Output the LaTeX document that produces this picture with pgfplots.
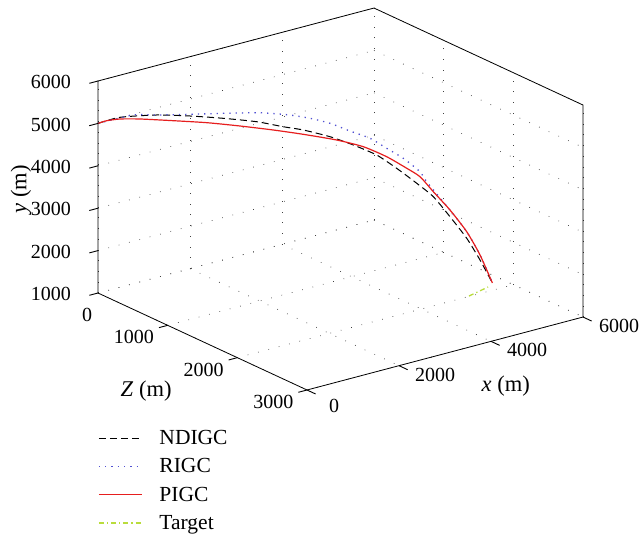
\documentclass[border=0pt]{standalone}
\usepackage{fontspec}
\setmainfont{Liberation Serif}
\usepackage{pgfplots}
\pgfplotsset{compat=1.18}
\usetikzlibrary{calc}
\definecolor{rigc}{RGB}{80,80,210}
\definecolor{pigc}{RGB}{230,30,30}
\definecolor{tgt}{RGB}{185,220,60}
\begin{document}
\begin{tikzpicture}
\begin{axis}[
  x={(0.0696667pt,-0.0323333pt)},
  y={(0.046pt,0.0121667pt)},
  z={(0pt,0.0424pt)},
  xmin=0,xmax=3000, ymin=0,ymax=6000, zmin=1000,zmax=6000,
  xtick={1000,2000,3000}, ytick={2000,4000,6000}, ztick={1000,2000,...,6000},
  extra x ticks={0}, extra y ticks={0},
  extra x tick style={xticklabel style={xshift=19pt, yshift=-15pt}},
  extra y tick style={yticklabel style={xshift=-7pt, yshift=-10pt}},
  clip=false,
  grid=major,
  major grid style={black!75, line width=0.7pt, dash pattern=on 0.7pt off 10pt},
  axis line style={draw=none},
  tick pos=left,
  tick align=outside,
  major tick length=9pt,
  tick style={draw=none},
  /pgf/number format/assume math mode=true,
  /pgf/number format/1000 sep={},
  ticklabel style={font=\fontsize{20}{22}\selectfont},
  xticklabel style={xshift=-13pt, yshift=6pt},
  yticklabel style={xshift=19pt, yshift=9pt},
  zticklabel style={xshift=-15pt, yshift=-1pt},
  label style={font=\fontsize{22.5}{25}\selectfont},
  xlabel={\textit{Z} (m)}, ylabel={\textit{x} (m)}, zlabel={\textit{y} (m)},
  xlabel style={xshift=3pt, yshift=28pt},
  ylabel style={xshift=13pt, yshift=42pt},
  zlabel style={yshift=-8pt, xshift=-10pt},
  legend style={at={(axis description cs:0,-0.1)}, anchor=north west, draw=none, fill=none,
    font=\fontsize{21.5}{24}\selectfont, row sep=8.5pt, column sep=15pt, inner sep=0pt},
  legend cell align=left,
  legend image code/.code={\draw[#1] (0pt,0pt) -- (43pt,0pt);},
]
\addplot3[black, line width=1pt, dash pattern=on 7pt off 4pt, smooth, tension=0.4] coordinates {
(0,0,5000) (104,321,5131) (276,857,5163) (434,1344,5120) (590,1830,5045)
(748,2318,4945) (873,2706,4811) (967,2998,4722) (1093,3388,4548) (1203,3729,4338)
(1313,4070,4088) (1407,4362,3762) (1502,4655,3397) (1580,4897,3071) (1658,5141,2589)
(1737,5385,2070) (1800,5579,1550) (1858,5760,1000)};
\addlegendentry{NDIGC}
\addplot3[rigc, line width=1.3pt, dash pattern=on 1.3pt off 5pt, smooth, tension=0.4] coordinates {
(0,0,5000) (166,516,5177) (276,857,5163) (434,1344,5160) (590,1830,5163)
(748,2318,5158) (810,2512,5135) (905,2804,5083) (999,3096,4994) (1093,3388,4864)
(1187,3680,4670) (1282,3973,4486) (1360,4216,4240) (1438,4459,3994) (1517,4703,3668)
(1548,4800,3429) (1658,5141,2747) (1737,5385,2225) (1800,5579,1668) (1858,5760,1000)};
\addlegendentry{RIGC}
\addplot3[pigc, line width=1.2pt, smooth, tension=0.4] coordinates {
(0,0,5000) (41,127,5058) (104,321,5091) (198,613,5079) (355,1100,5019)
(512,1588,4952) (669,2074,4854) (826,2560,4740) (967,2998,4620) (1125,3486,4466)
(1250,3875,4292) (1360,4216,4042) (1455,4509,3757) (1517,4703,3550) (1580,4897,3189)
(1658,5141,2747) (1737,5385,2225) (1800,5579,1668) (1858,5760,1000)};
\addlegendentry{PIGC}
\addplot3[tgt, line width=1.3pt, dash pattern=on 5pt off 3pt on 1.3pt off 3pt] coordinates {
(1992,5048,1000) (1953,5314,1000) (1914,5580,1000)};
\addlegendentry{Target}
\draw[black, line width=0.8pt] (axis cs:0,0,1000) -- (axis cs:3000,0,1000) -- (axis cs:3000,6000,1000)
  -- (axis cs:3000,6000,6000) -- (axis cs:0,6000,6000) -- (axis cs:0,0,6000) -- cycle;
\draw[black, line width=0.9pt]
  (axis cs:0,0,1000) -- ++(-8.7pt,-2.3pt)
  (axis cs:0,0,2000) -- ++(-8.7pt,-2.3pt)
  (axis cs:0,0,3000) -- ++(-8.7pt,-2.3pt)
  (axis cs:0,0,4000) -- ++(-8.7pt,-2.3pt)
  (axis cs:0,0,5000) -- ++(-8.7pt,-2.3pt)
  (axis cs:0,0,6000) -- ++(-8.7pt,-2.3pt)
  (axis cs:1000,0,1000) -- ++(-8.7pt,-2.3pt)
  (axis cs:2000,0,1000) -- ++(-8.7pt,-2.3pt)
  (axis cs:3000,0,1000) -- ++(-8.7pt,-2.3pt)
  (axis cs:3000,0,1000) -- ++(8.6pt,-4pt)
  (axis cs:3000,2000,1000) -- ++(8.6pt,-4pt)
  (axis cs:3000,4000,1000) -- ++(8.6pt,-4pt)
  (axis cs:3000,6000,1000) -- ++(8.6pt,-4pt);
\coordinate (A) at (axis cs:0,0,1000);
\end{axis}
\pgfresetboundingbox
\path[use as bounding box] ($(A)+(-98pt,-253pt)$) rectangle ++(639pt,546pt);
\end{tikzpicture}
\end{document}
